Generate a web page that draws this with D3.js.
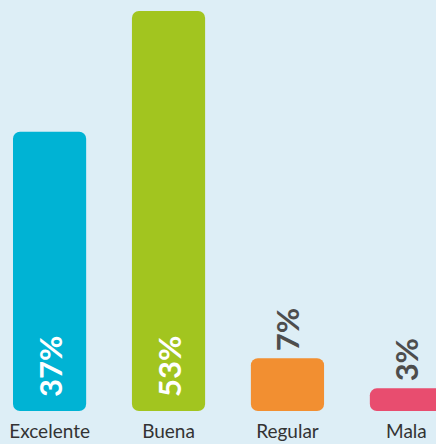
<!DOCTYPE html>
<html>
<head>
<meta charset="utf-8">
<script src="https://cdn.jsdelivr.net/npm/d3@7"></script>
<style>
  body { margin: 0; background: #ddeef6; overflow: hidden; }
  svg { display: block; }
</style>
</head>
<body>
<div id="chart"></div>
<script>
// data
const categories = ["Excelente", "Buena", "Regular", "Mala"];
const values = [37, 53, 7, 3];
const colors = ["#00b3d4", "#a2c51f", "#f28f31", "#e84d6f"];

const width = 436, height = 444;
const baseY = 411;

const svg = d3.select("#chart")
    .append("svg")
    .attr("width", width)
    .attr("height", height);

svg.append("rect")
    .attr("width", width)
    .attr("height", height)
    .attr("fill", "#ddeef6");

const x = d3.scaleBand()
    .domain(categories)
    .range([13, 443])
    .paddingInner(0.385)
    .paddingOuter(0);

const y = d3.scaleLinear()
    .domain([0, 53])
    .range([baseY, 11]);

// bars
svg.selectAll("rect.bar")
    .data(values)
    .enter()
    .append("rect")
    .attr("class", "bar")
    .attr("x", (d, i) => x(categories[i]))
    .attr("y", d => y(d))
    .attr("width", x.bandwidth())
    .attr("height", d => baseY - y(d))
    .attr("rx", 7)
    .attr("fill", (d, i) => colors[i]);

// percent labels, rotated
svg.selectAll("text.pct")
    .data(values)
    .enter()
    .append("text")
    .attr("class", "pct")
    .attr("transform", (d, i) => {
        const cx = x(categories[i]) + x.bandwidth() / 2;
        const inside = baseY - y(d) > 80;
        const ty = inside ? baseY - 14 : y(d) - 7;
        return `translate(${cx},${ty}) rotate(-90)`;
    })
    .attr("dominant-baseline", "central")
    .attr("text-anchor", "start")
    .attr("font-family", "Lato, sans-serif")
    .attr("font-weight", "700")
    .attr("font-size", 31)
    .attr("fill", d => (baseY - y(d) > 80) ? "#ffffff" : "#4d4d4d")
    .text(d => d + "%");

// category labels
svg.selectAll("text.cat")
    .data(categories)
    .enter()
    .append("text")
    .attr("class", "cat")
    .attr("x", d => x(d) + x.bandwidth() / 2)
    .attr("y", 438)
    .attr("text-anchor", "middle")
    .attr("font-family", "Lato, sans-serif")
    .attr("font-size", 19)
    .attr("fill", "#333333")
    .text(d => d);
</script>
</body>
</html>
